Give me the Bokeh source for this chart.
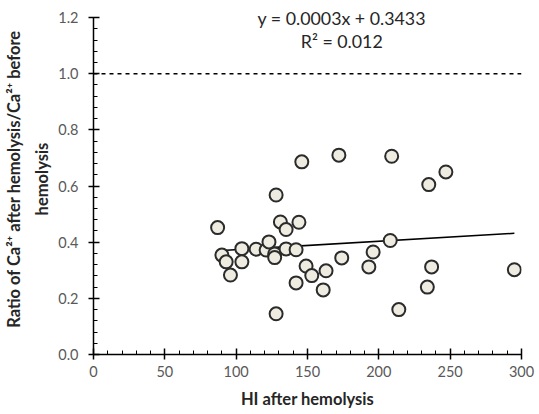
from bokeh.plotting import figure
from bokeh.models import Range1d, Label, FixedTicker, PrintfTickFormatter
from bokeh.embed import file_html
from bokeh.resources import INLINE

# Data
hi_after = [87, 90, 93, 96, 104, 104, 114, 121, 123, 127, 127, 128, 128,
            131, 135, 135, 142, 142, 144, 146, 149, 153, 161, 163, 172, 174,
            193, 196, 208, 209, 214, 234, 235, 237, 247, 295]
ca_ratio = [0.452, 0.354, 0.330, 0.283, 0.377, 0.330, 0.375, 0.372, 0.401,
            0.358, 0.345, 0.568, 0.145, 0.472, 0.445, 0.376, 0.373, 0.255,
            0.471, 0.686, 0.315, 0.281, 0.230, 0.298, 0.710, 0.344, 0.312,
            0.365, 0.406, 0.706, 0.160, 0.240, 0.605, 0.312, 0.650, 0.302]

trend_slope = 0.0003
trend_intercept = 0.3433
eq_text = "y = 0.0003x + 0.3433"
r2_text = "R\u00b2 = 0.012"
ref_level = 1.0

x_ticks = [0, 50, 100, 150, 200, 250, 300]
y_ticks = [0.0, 0.2, 0.4, 0.6, 0.8, 1.0, 1.2]
x_label = "HI after hemolysis"
y_label = "Ratio of Ca\u00b2\u207a after hemolysis/Ca\u00b2\u207a before\nhemolysis"

FONT = "Lato"

p = figure(width=539, height=414, output_backend="svg", toolbar_location=None,
           x_range=Range1d(x_ticks[0], x_ticks[-1]),
           y_range=Range1d(y_ticks[0], 1.25),
           min_border_left=93, min_border_right=18,
           min_border_top=3, min_border_bottom=60)
p.outline_line_color = None
p.grid.visible = False
p.background_fill_color = "white"
p.border_fill_color = "white"

# reference dashed line at 1.0
p.line([x_ticks[0], x_ticks[-1]], [ref_level, ref_level],
       line_color="black", line_width=1.5, line_dash="4 4")

# linear trendline
tx = [min(hi_after), max(hi_after)]
ty = [trend_intercept + trend_slope * v for v in tx]
p.line(tx, ty, line_color="black", line_width=1.5)

# scatter points
p.scatter(hi_after, ca_ratio, size=13, marker="circle",
          fill_color="#EEECE1", line_color="#2B2B2B", line_width=2)

# axes styling
for ax in (p.xaxis[0], p.yaxis[0]):
    ax.axis_line_color = "black"
    ax.axis_line_width = 1.5
    ax.major_tick_line_color = "black"
    ax.major_tick_line_width = 1.5
    ax.minor_tick_line_color = "black"
    ax.minor_tick_line_width = 1
    ax.major_tick_in = 6
    ax.major_tick_out = 5
    ax.minor_tick_in = 4
    ax.minor_tick_out = 0
    ax.major_label_text_font = FONT
    ax.major_label_text_font_size = "14.5px"
    ax.major_label_text_color = "#595959"
    ax.axis_label_text_font = FONT
    ax.axis_label_text_font_style = "bold"
    ax.axis_label_text_color = "#262626"

p.xaxis[0].axis_label_text_font_size = "16.5px"
p.yaxis[0].axis_label_text_font_size = "16.5px"
p.yaxis[0].axis_label_text_line_height = 1.4
p.yaxis[0].bounds = (y_ticks[0], y_ticks[-1])

p.xaxis[0].ticker = FixedTicker(ticks=x_ticks,
                                minor_ticks=list(range(x_ticks[0], x_ticks[-1] + 1, 10)))
p.yaxis[0].ticker = FixedTicker(ticks=y_ticks,
                                minor_ticks=[round(i * 0.04, 2) for i in range(31)])
p.yaxis[0].formatter = PrintfTickFormatter(format="%.1f")
p.xaxis[0].axis_label = x_label
p.yaxis[0].axis_label = y_label
p.xaxis[0].major_label_standoff = 6
p.yaxis[0].major_label_standoff = 10
p.xaxis[0].axis_label_standoff = 9
p.yaxis[0].axis_label_standoff = 3

# equation annotations
p.add_layout(Label(x=174, y=1.2, text=eq_text, text_align="center",
                   text_baseline="middle", text_font=FONT,
                   text_font_size="17.8px", text_color="#262626"))
p.add_layout(Label(x=174, y=1.115, text=r2_text, text_align="center",
                   text_baseline="middle", text_font=FONT,
                   text_font_size="17.8px", text_color="#262626"))

open("out.html", "w").write(file_html(p, INLINE))
